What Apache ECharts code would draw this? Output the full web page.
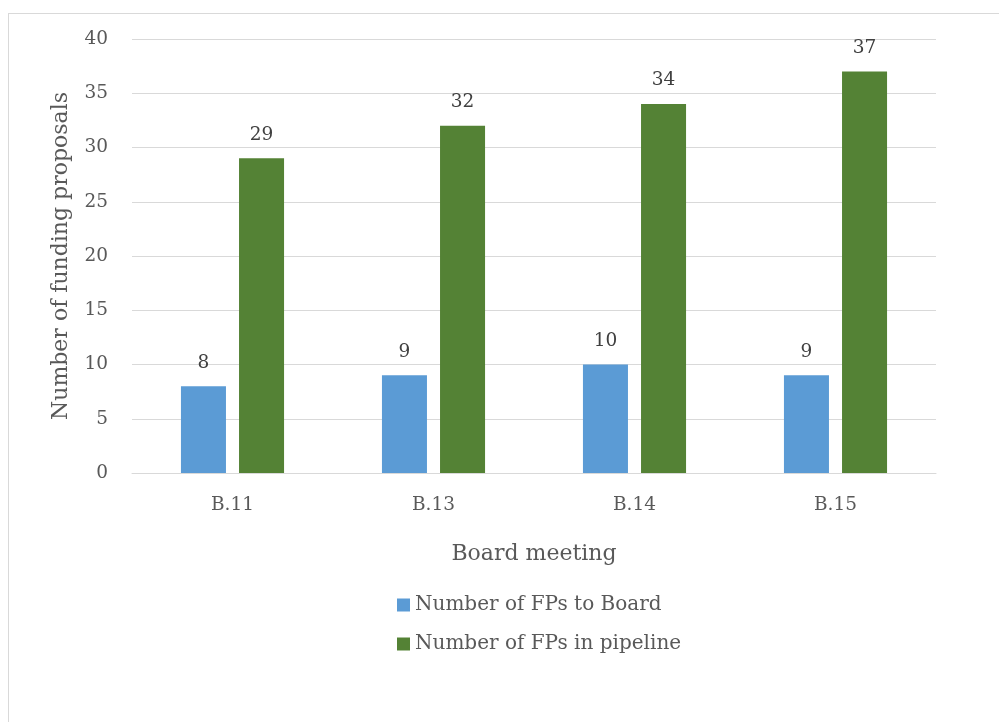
<!DOCTYPE html>
<html><head><meta charset="utf-8">
<script src="https://cdn.jsdelivr.net/npm/echarts@6/dist/echarts.min.js"></script>
<style>html,body{margin:0;padding:0;background:#fff}#c{width:999px;height:722px;}
#frame{position:absolute;left:8px;top:13px;width:1100px;height:800px;border:1px solid #d9d9d9;box-sizing:border-box;pointer-events:none}</style>
</head><body><div id="frame"></div><div id="c"></div>
<script>
const categories = ['B.11', 'B.13', 'B.14', 'B.15'];
const toBoard = [8, 9, 10, 9];
const pipeline = [29, 32, 34, 37];
const seriesNames = ['Number of FPs to Board', 'Number of FPs in pipeline'];
const yTicks = {min: 0, max: 40, interval: 5};

const font = '"DejaVu Serif", serif';
const txt = '#595959';
const chart = echarts.init(document.getElementById('c'), null, {renderer: 'canvas'});
chart.setOption({
  animation: false,
  textStyle: {fontFamily: font, color: txt},
  grid: {left: 132, right: 63, top: 39, bottom: 249, containLabel: false},
  legend: {
    orient: 'vertical', left: 392, top: 590, itemGap: 19, itemWidth: 13, itemHeight: 13,
    icon: 'rect', textStyle: {fontFamily: font, fontSize: 20, color: txt},
    data: seriesNames
  },
  xAxis: {
    type: 'category', data: categories,
    name: 'Board meeting', nameLocation: 'middle', nameGap: 70,
    nameTextStyle: {fontFamily: font, fontSize: 22, color: txt},
    axisLine: {lineStyle: {color: '#d9d9d9', width: 1}},
    axisTick: {show: false},
    axisLabel: {fontFamily: font, fontSize: 18.5, color: txt, margin: 23}
  },
  yAxis: {
    type: 'value', min: yTicks.min, max: yTicks.max, interval: yTicks.interval,
    name: 'Number of funding proposals', nameLocation: 'middle', nameGap: 60,
    nameTextStyle: {fontFamily: font, fontSize: 22, color: txt},
    axisLine: {show: false}, axisTick: {show: false},
    axisLabel: {fontFamily: font, fontSize: 18.5, color: txt, margin: 24},
    splitLine: {lineStyle: {color: '#d9d9d9', width: 1}}
  },
  series: [
    {name: seriesNames[0], type: 'bar', data: toBoard, barWidth: '22.4%', barGap: '29%',
     itemStyle: {color: '#5b9bd5'},
     label: {show: true, position: 'top', distance: 14, fontFamily: font, fontSize: 18.5, color: '#404040'}},
    {name: seriesNames[1], type: 'bar', data: pipeline, barWidth: '22.4%',
     itemStyle: {color: '#548235'},
     label: {show: true, position: 'top', distance: 14, fontFamily: font, fontSize: 18.5, color: '#404040'}}
  ]
});
</script></body></html>
